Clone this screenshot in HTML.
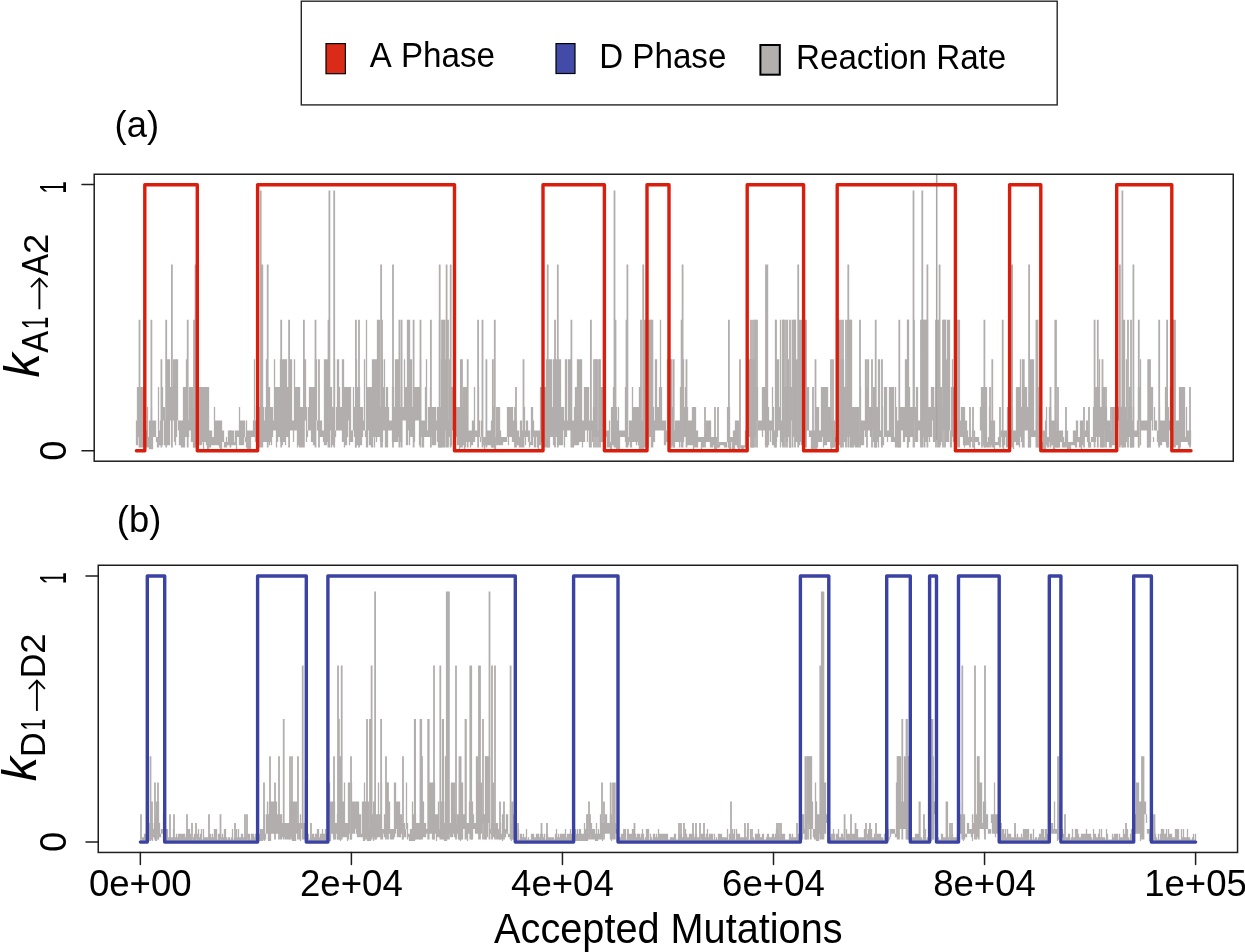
<!DOCTYPE html>
<html><head><meta charset="utf-8"><style>
html,body{margin:0;padding:0;background:#fff;width:1245px;height:952px;overflow:hidden}
svg{display:block;will-change:transform}
text{font-family:"Liberation Sans",sans-serif;fill:#000}
</style></head><body>
<svg width="1245" height="952" viewBox="0 0 1245 952">
<rect width="1245" height="952" fill="#fff"/>
<rect x="301.3" y="1.2" width="755.9" height="103.7" fill="none" stroke="#262626" stroke-width="1.4"/>
<rect x="326.0" y="43.6" width="19.4" height="30.1" fill="#DA2A18" stroke="#000" stroke-width="1.2"/>
<rect x="556.0" y="43.6" width="19.0" height="29.9" fill="#424CA8" stroke="#000" stroke-width="1.2"/>
<rect x="760.4" y="45.0" width="19.4" height="29.7" fill="#B3AFAE" stroke="#000" stroke-width="2"/>
<text transform="translate(369.73,67.40) scale(0.8239,0.8612)" font-size="40.0">A</text>
<text transform="translate(400.88,67.40) scale(0.8296,0.8612)" font-size="40.0">Phase</text>
<text transform="translate(599.29,67.60) scale(0.8277,0.8612)" font-size="40.0">D</text>
<text transform="translate(632.28,67.60) scale(0.8306,0.8612)" font-size="40.0">Phase</text>
<text transform="translate(796.08,69.10) scale(0.8289,0.8539)" font-size="40.0">Reaction</text>
<text transform="translate(936.18,69.10) scale(0.8296,0.8539)" font-size="40.0">Rate</text>
<text transform="translate(114.59,137.20) scale(0.9096,0.9148)" font-size="40.0">(a)</text>
<text transform="translate(116.85,532.30) scale(0.9085,0.9183)" font-size="40.0">(b)</text>
<rect x="94.2" y="174.25" width="1139.05" height="286.95" fill="none" stroke="#1e1e1e" stroke-width="1.5"/>
<rect x="98.25" y="565.25" width="1139.30" height="287.20" fill="none" stroke="#1e1e1e" stroke-width="1.5"/>
<line x1="82.0" y1="184.6" x2="94.2" y2="184.6" stroke="#1e1e1e" stroke-width="1.5" stroke-linecap="round"/>
<line x1="82.0" y1="450.8" x2="94.2" y2="450.8" stroke="#1e1e1e" stroke-width="1.5" stroke-linecap="round"/>
<line x1="86.0" y1="575.95" x2="98.25" y2="575.95" stroke="#1e1e1e" stroke-width="1.5" stroke-linecap="round"/>
<line x1="86.0" y1="842.1" x2="98.25" y2="842.1" stroke="#1e1e1e" stroke-width="1.5" stroke-linecap="round"/>
<text transform="translate(65.50,193.73) rotate(-90) scale(0.5684,0.9230)" font-size="40.0">1</text>
<text transform="translate(65.82,460.81) rotate(-90) scale(0.9048,0.9384)" font-size="40.0">0</text>
<text transform="translate(65.80,584.36) rotate(-90) scale(0.5452,0.9375)" font-size="40.0">1</text>
<text transform="translate(65.82,852.01) rotate(-90) scale(0.9048,0.9384)" font-size="40.0">0</text>
<line x1="140.35" y1="852.45" x2="140.35" y2="864.6" stroke="#1e1e1e" stroke-width="1.5" stroke-linecap="round"/>
<text x="88.95" y="895.6" font-size="36.6" transform="translate(88.95,0) scale(1,1.0) translate(-88.95,0)">0e+00</text>
<line x1="351.4" y1="852.45" x2="351.4" y2="864.6" stroke="#1e1e1e" stroke-width="1.5" stroke-linecap="round"/>
<text x="300.00" y="895.6" font-size="36.6" transform="translate(300.00,0) scale(1,1.0) translate(-300.00,0)">2e+04</text>
<line x1="562.45" y1="852.45" x2="562.45" y2="864.6" stroke="#1e1e1e" stroke-width="1.5" stroke-linecap="round"/>
<text x="511.05" y="895.6" font-size="36.6" transform="translate(511.05,0) scale(1,1.0) translate(-511.05,0)">4e+04</text>
<line x1="773.5" y1="852.45" x2="773.5" y2="864.6" stroke="#1e1e1e" stroke-width="1.5" stroke-linecap="round"/>
<text x="722.10" y="895.6" font-size="36.6" transform="translate(722.10,0) scale(1,1.0) translate(-722.10,0)">6e+04</text>
<line x1="984.55" y1="852.45" x2="984.55" y2="864.6" stroke="#1e1e1e" stroke-width="1.5" stroke-linecap="round"/>
<text x="933.15" y="895.6" font-size="36.6" transform="translate(933.15,0) scale(1,1.0) translate(-933.15,0)">8e+04</text>
<line x1="1195.6" y1="852.45" x2="1195.6" y2="864.6" stroke="#1e1e1e" stroke-width="1.5" stroke-linecap="round"/>
<text x="1144.20" y="895.6" font-size="36.6" transform="translate(1144.20,0) scale(1,1.0) translate(-1144.20,0)">1e+05</text>
<text transform="translate(494.12,943.25) scale(0.9920,1.0392)" font-size="40.0">Accepted Mutations</text>
<text transform="translate(38.75,377.43) rotate(-90) scale(1.2166,1.2276)" font-size="40.0" font-style="italic">k</text><text transform="translate(47.90,352.77) rotate(-90) scale(0.8183,0.9048)" font-size="40.0">A</text><text transform="translate(47.90,328.98) rotate(-90) scale(0.5510,0.9048)" font-size="40.0">1</text><text transform="translate(47.90,275.77) rotate(-90) scale(0.8183,0.9048)" font-size="40.0">A</text><text transform="translate(47.90,253.93) rotate(-90) scale(0.9156,0.8918)" font-size="40.0">2</text><path d="M39.4,309.3 L39.4,278.40000000000003" stroke="#000" stroke-width="1.9" fill="none"/><path d="M31.0,287.2 L39.4,278.6 L47.400000000000006,287.2" stroke="#000" stroke-width="1.9" fill="none" stroke-linejoin="miter"/>
<text transform="translate(36.20,781.23) rotate(-90) scale(1.2166,1.2155)" font-size="40.0" font-style="italic">k</text><text transform="translate(45.40,757.10) rotate(-90) scale(0.8530,0.8903)" font-size="40.0">D</text><text transform="translate(45.40,730.40) rotate(-90) scale(0.5278,0.8903)" font-size="40.0">1</text><text transform="translate(45.40,678.20) rotate(-90) scale(0.8530,0.8903)" font-size="40.0">D</text><text transform="translate(45.40,653.82) rotate(-90) scale(0.9101,0.8775)" font-size="40.0">2</text><path d="M36.9,710.9 L36.9,680.4" stroke="#000" stroke-width="1.9" fill="none"/><path d="M28.8,688.8 L36.9,680.5999999999999 L44.900000000000006,688.8" stroke="#000" stroke-width="1.9" fill="none" stroke-linejoin="miter"/>
<path d="M136.5 420.6V445.3M137.5 387.0V445.3M138.5 387.0V437.0M139.5 387.0V437.0M140.5 387.0V447.6M141.5 387.0V447.6M142.5 387.0V447.6M143.5 387.0V447.6M144.5 387.0V447.6M145.5 420.6V447.6M146.5 430.6V447.6M147.5 407.0V447.6M148.5 437.0V447.6M149.5 420.6V449.3M150.5 420.6V449.3M151.5 407.0V449.3M152.5 420.6V449.3M153.5 420.6V437.0M154.5 420.6V437.0M155.5 420.6V437.0M156.5 437.0V442.0M157.5 437.0V447.6M158.5 387.0V447.6M159.5 430.6V445.3M160.5 420.6V445.3M161.5 420.6V445.3M162.5 387.0V445.3M163.5 407.0V420.6M164.5 407.0V445.3M165.5 420.6V445.3M166.5 359.2V445.3M167.5 359.2V445.3M168.5 359.2V445.3M169.5 359.2V445.3M170.5 387.0V420.6M171.5 387.0V420.6M172.5 387.0V420.6M173.5 359.2V420.6M174.5 359.2V442.0M175.5 359.2V445.3M176.5 359.2V437.0M177.5 359.2V420.6M178.5 420.6V430.6M179.5 420.6V445.3M180.5 420.6V445.3M181.5 420.6V447.6M182.5 420.6V447.6M183.5 387.0V447.6M184.5 387.0V447.6M185.5 387.0V437.0M186.5 359.2V437.0M187.5 407.0V437.0M188.5 420.6V437.0M189.5 387.0V430.6M190.5 387.0V430.6M191.5 387.0V442.0M192.5 387.0V442.0M193.5 407.0V447.6M194.5 359.2V447.6M195.5 407.0V437.0M196.5 387.0V430.6M197.5 387.0V442.0M198.5 387.0V445.3M199.5 387.0V445.3M200.5 387.0V445.3M201.5 387.0V445.3M202.5 387.0V442.0M203.5 387.0V449.3M204.5 387.0V442.0M205.5 387.0V442.0M206.5 387.0V445.3M207.5 387.0V449.3M208.5 387.0V449.3M209.5 430.6V447.6M210.5 430.6V447.6M211.5 430.6V445.3M212.5 437.0V445.3M213.5 437.0V445.3M214.5 407.0V445.3M215.5 420.6V445.3M216.5 420.6V445.3M217.5 420.6V445.3M218.5 420.6V445.3M219.5 420.6V447.6M220.5 420.6V449.3M221.5 420.6V449.3M222.5 430.6V442.0M223.5 430.6V442.0M224.5 442.0V447.6M225.5 442.0V447.6M226.5 437.0V447.6M227.5 442.0V445.3M228.5 430.6V445.3M229.5 430.6V445.3M230.5 430.6V445.3M231.5 430.6V445.3M232.5 430.6V445.3M233.5 430.6V445.3M234.5 442.0V445.3M235.5 430.6V445.3M236.5 430.6V449.3M237.5 430.6V437.0M238.5 430.6V437.0M239.5 407.0V445.3M240.5 420.6V445.3M241.5 420.6V445.3M242.5 420.6V445.3M243.5 420.6V445.3M244.5 420.6V437.0M245.5 437.0V442.0M246.5 420.6V447.6M247.5 430.6V449.3M248.5 430.6V449.3M249.5 430.6V449.3M250.5 430.6V449.3M251.5 430.6V437.0M252.5 430.6V437.0M253.5 420.6V437.0M254.5 359.2V437.0M255.5 420.6V442.0M256.5 407.0V437.0M257.5 407.0V430.6M258.5 420.6V447.6M259.5 407.0V447.6M260.5 407.0V420.6M261.5 407.0V420.6M262.5 407.0V442.0M263.5 407.0V442.0M264.5 420.6V442.0M265.5 407.0V442.0M266.5 359.2V442.0M267.5 387.0V442.0M268.5 387.0V442.0M269.5 387.0V445.3M270.5 407.0V442.0M271.5 407.0V445.3M272.5 407.0V437.0M273.5 420.6V430.6M274.5 359.2V430.6M275.5 387.0V430.6M276.5 387.0V447.6M277.5 387.0V442.0M278.5 387.0V437.0M279.5 387.0V437.0M280.5 359.2V442.0M281.5 359.2V430.6M282.5 359.2V445.3M283.5 359.2V442.0M284.5 359.2V442.0M285.5 359.2V445.3M286.5 359.2V437.0M287.5 387.0V437.0M288.5 387.0V437.0M289.5 387.0V430.6M290.5 359.2V430.6M291.5 359.2V430.6M292.5 420.6V430.6M293.5 420.6V442.0M294.5 359.2V430.6M295.5 387.0V430.6M296.5 387.0V430.6M297.5 387.0V447.6M298.5 387.0V445.3M299.5 387.0V447.6M300.5 407.0V447.6M301.5 407.0V447.6M302.5 407.0V447.6M303.5 420.6V430.6M304.5 359.2V420.6M305.5 359.2V420.6M306.5 407.0V442.0M307.5 430.6V437.0M308.5 407.0V430.6M309.5 387.0V430.6M310.5 387.0V430.6M311.5 387.0V442.0M312.5 387.0V442.0M313.5 387.0V445.3M314.5 387.0V445.3M315.5 359.2V420.6M316.5 359.2V420.6M317.5 420.6V430.6M318.5 420.6V430.6M319.5 420.6V437.0M320.5 420.6V437.0M321.5 420.6V437.0M322.5 430.6V437.0M323.5 430.6V442.0M324.5 359.2V445.3M325.5 359.2V445.3M326.5 359.2V445.3M327.5 359.2V442.0M328.5 359.2V442.0M329.5 387.0V430.6M330.5 387.0V430.6M331.5 387.0V447.6M332.5 407.0V445.3M333.5 407.0V445.3M334.5 359.2V442.0M335.5 430.6V437.0M336.5 407.0V430.6M337.5 359.2V430.6M338.5 359.2V430.6M339.5 387.0V430.6M340.5 407.0V430.6M341.5 407.0V430.6M342.5 359.2V442.0M343.5 359.2V442.0M344.5 387.0V447.6M345.5 387.0V445.3M346.5 387.0V445.3M347.5 387.0V437.0M348.5 387.0V420.6M349.5 387.0V445.3M350.5 387.0V442.0M351.5 430.6V442.0M352.5 430.6V442.0M353.5 387.0V430.6M354.5 407.0V437.0M355.5 420.6V447.6M356.5 359.2V445.3M357.5 387.0V445.3M358.5 387.0V445.3M359.5 387.0V445.3M360.5 407.0V445.3M361.5 407.0V445.3M362.5 407.0V437.0M363.5 420.6V430.6M364.5 359.2V430.6M365.5 430.6V437.0M366.5 319.7V447.6M367.5 387.0V447.6M368.5 387.0V430.6M369.5 387.0V445.3M370.5 387.0V445.3M371.5 387.0V447.6M372.5 359.2V447.6M373.5 359.2V437.0M374.5 359.2V447.6M375.5 359.2V437.0M376.5 359.2V442.0M377.5 319.7V437.0M378.5 319.7V437.0M379.5 319.7V437.0M380.5 407.0V442.0M381.5 407.0V442.0M382.5 359.2V442.0M383.5 387.0V430.6M384.5 359.2V430.6M385.5 407.0V447.6M386.5 387.0V447.6M387.5 387.0V447.6M388.5 407.0V430.6M389.5 420.6V430.6M390.5 420.6V430.6M391.5 420.6V430.6M392.5 387.0V442.0M393.5 387.0V442.0M394.5 407.0V442.0M395.5 359.2V442.0M396.5 359.2V442.0M397.5 359.2V442.0M398.5 359.2V437.0M399.5 359.2V442.0M400.5 407.0V442.0M401.5 387.0V442.0M402.5 407.0V420.6M403.5 407.0V420.6M404.5 359.2V420.6M405.5 387.0V420.6M406.5 387.0V445.3M407.5 319.7V445.3M408.5 319.7V430.6M409.5 319.7V445.3M410.5 359.2V437.0M411.5 359.2V437.0M412.5 407.0V437.0M413.5 387.0V437.0M414.5 387.0V442.0M415.5 387.0V420.6M416.5 387.0V420.6M417.5 387.0V420.6M418.5 387.0V420.6M419.5 387.0V445.3M420.5 359.2V437.0M421.5 420.6V437.0M422.5 420.6V447.6M423.5 420.6V447.6M424.5 420.6V437.0M425.5 387.0V437.0M426.5 359.2V437.0M427.5 430.6V437.0M428.5 407.0V437.0M429.5 407.0V437.0M430.5 387.0V437.0M431.5 407.0V437.0M432.5 407.0V445.3M433.5 407.0V445.3M434.5 407.0V445.3M435.5 407.0V445.3M436.5 420.6V430.6M437.5 407.0V442.0M438.5 407.0V447.6M439.5 319.7V447.6M440.5 407.0V447.6M441.5 359.2V447.6M442.5 359.2V442.0M443.5 319.7V437.0M444.5 359.2V430.6M445.5 359.2V430.6M446.5 420.6V437.0M447.5 420.6V437.0M448.5 420.6V437.0M449.5 359.2V437.0M450.5 387.0V445.3M451.5 387.0V445.3M452.5 387.0V430.6M453.5 387.0V430.6M454.5 264.5V430.6M455.5 407.0V430.6M456.5 407.0V437.0M457.5 407.0V445.3M458.5 407.0V445.3M459.5 407.0V449.3M460.5 407.0V445.3M461.5 407.0V442.0M462.5 407.0V445.3M463.5 387.0V445.3M464.5 387.0V449.3M465.5 387.0V447.6M466.5 387.0V442.0M467.5 430.6V442.0M468.5 430.6V442.0M469.5 430.6V442.0M470.5 430.6V447.6M471.5 430.6V445.3M472.5 420.6V445.3M473.5 420.6V442.0M474.5 387.0V442.0M475.5 430.6V437.0M476.5 430.6V437.0M477.5 430.6V437.0M478.5 387.0V437.0M479.5 420.6V437.0M480.5 437.0V442.0M481.5 420.6V437.0M482.5 437.0V442.0M483.5 437.0V445.3M484.5 437.0V449.3M485.5 437.0V445.3M486.5 437.0V445.3M487.5 430.6V445.3M488.5 430.6V445.3M489.5 430.6V445.3M490.5 430.6V445.3M491.5 420.6V447.6M492.5 420.6V447.6M493.5 407.0V447.6M494.5 437.0V449.3M495.5 437.0V449.3M496.5 407.0V445.3M497.5 407.0V445.3M498.5 407.0V445.3M499.5 407.0V445.3M500.5 430.6V445.3M501.5 437.0V445.3M502.5 437.0V445.3M503.5 437.0V442.0M504.5 437.0V442.0M505.5 437.0V442.0M506.5 437.0V442.0M507.5 407.0V437.0M508.5 407.0V445.3M509.5 407.0V437.0M510.5 407.0V437.0M511.5 407.0V437.0M512.5 407.0V442.0M513.5 420.6V442.0M514.5 420.6V442.0M515.5 420.6V445.3M516.5 420.6V445.3M517.5 430.6V445.3M518.5 430.6V445.3M519.5 437.0V447.6M520.5 420.6V447.6M521.5 420.6V447.6M522.5 430.6V447.6M523.5 430.6V437.0M524.5 407.0V437.0M525.5 430.6V445.3M526.5 420.6V437.0M527.5 420.6V437.0M528.5 430.6V442.0M529.5 430.6V447.6M530.5 442.0V445.3M531.5 407.0V445.3M532.5 407.0V445.3M533.5 420.6V437.0M534.5 430.6V447.6M535.5 430.6V447.6M536.5 430.6V437.0M537.5 430.6V447.6M538.5 430.6V449.3M539.5 430.6V445.3M540.5 387.0V445.3M541.5 387.0V442.0M542.5 420.6V437.0M543.5 420.6V437.0M544.5 387.0V447.6M545.5 387.0V447.6M546.5 359.2V447.6M547.5 359.2V447.6M548.5 359.2V447.6M549.5 359.2V447.6M550.5 359.2V437.0M551.5 359.2V437.0M552.5 407.0V437.0M553.5 359.2V445.3M554.5 359.2V445.3M555.5 359.2V437.0M556.5 359.2V437.0M557.5 359.2V445.3M558.5 359.2V445.3M559.5 359.2V445.3M560.5 359.2V445.3M561.5 407.0V445.3M562.5 407.0V445.3M563.5 407.0V430.6M564.5 420.6V447.6M565.5 359.2V437.0M566.5 359.2V437.0M567.5 420.6V430.6M568.5 359.2V430.6M569.5 359.2V430.6M570.5 359.2V430.6M571.5 420.6V442.0M572.5 420.6V447.6M573.5 420.6V447.6M574.5 407.0V445.3M575.5 387.0V445.3M576.5 387.0V445.3M577.5 359.2V445.3M578.5 359.2V445.3M579.5 359.2V442.0M580.5 359.2V442.0M581.5 359.2V442.0M582.5 420.6V447.6M583.5 420.6V442.0M584.5 387.0V442.0M585.5 387.0V430.6M586.5 387.0V430.6M587.5 387.0V442.0M588.5 387.0V430.6M589.5 420.6V447.6M590.5 420.6V430.6M591.5 420.6V430.6M592.5 420.6V442.0M593.5 407.0V437.0M594.5 407.0V437.0M595.5 359.2V437.0M596.5 359.2V437.0M597.5 430.6V437.0M598.5 430.6V437.0M599.5 359.2V442.0M600.5 387.0V442.0M601.5 387.0V442.0M602.5 387.0V442.0M603.5 319.7V430.6M604.5 420.6V447.6M605.5 420.6V437.0M606.5 430.6V437.0M607.5 430.6V447.6M608.5 430.6V447.6M609.5 420.6V447.6M610.5 442.0V449.3M611.5 407.0V449.3M612.5 407.0V445.3M613.5 387.0V445.3M614.5 387.0V445.3M615.5 407.0V445.3M616.5 407.0V449.3M617.5 420.6V449.3M618.5 407.0V449.3M619.5 430.6V449.3M620.5 430.6V437.0M621.5 430.6V437.0M622.5 430.6V437.0M623.5 430.6V437.0M624.5 430.6V437.0M625.5 387.0V442.0M626.5 437.0V442.0M627.5 437.0V445.3M628.5 437.0V445.3M629.5 420.6V442.0M630.5 420.6V447.6M631.5 420.6V447.6M632.5 387.0V442.0M633.5 407.0V442.0M634.5 407.0V442.0M635.5 407.0V442.0M636.5 407.0V445.3M637.5 407.0V442.0M638.5 407.0V445.3M639.5 407.0V449.3M640.5 430.6V449.3M641.5 420.6V449.3M642.5 420.6V449.3M643.5 407.0V449.3M644.5 407.0V445.3M645.5 430.6V445.3M646.5 420.6V445.3M647.5 407.0V445.3M648.5 430.6V445.3M649.5 319.7V437.0M650.5 319.7V437.0M651.5 319.7V437.0M652.5 407.0V445.3M653.5 407.0V442.0M654.5 420.6V442.0M655.5 359.2V430.6M656.5 359.2V430.6M657.5 407.0V430.6M658.5 407.0V430.6M659.5 387.0V430.6M660.5 319.7V430.6M661.5 387.0V430.6M662.5 420.6V430.6M663.5 420.6V430.6M664.5 420.6V445.3M665.5 420.6V445.3M666.5 430.6V442.0M667.5 359.2V442.0M668.5 359.2V442.0M669.5 359.2V442.0M670.5 359.2V445.3M671.5 407.0V447.6M672.5 407.0V445.3M673.5 430.6V447.6M674.5 430.6V447.6M675.5 420.6V442.0M676.5 420.6V442.0M677.5 420.6V442.0M678.5 420.6V442.0M679.5 420.6V447.6M680.5 387.0V442.0M681.5 387.0V442.0M682.5 359.2V442.0M683.5 359.2V442.0M684.5 407.0V437.0M685.5 387.0V437.0M686.5 420.6V437.0M687.5 407.0V445.3M688.5 420.6V445.3M689.5 420.6V445.3M690.5 420.6V445.3M691.5 420.6V445.3M692.5 407.0V445.3M693.5 407.0V449.3M694.5 407.0V447.6M695.5 407.0V447.6M696.5 430.6V447.6M697.5 430.6V447.6M698.5 437.0V442.0M699.5 437.0V442.0M700.5 437.0V442.0M701.5 437.0V449.3M702.5 437.0V447.6M703.5 437.0V447.6M704.5 437.0V442.0M705.5 430.6V442.0M706.5 420.6V442.0M707.5 420.6V442.0M708.5 420.6V442.0M709.5 420.6V442.0M710.5 420.6V447.6M711.5 437.0V447.6M712.5 437.0V447.6M713.5 437.0V445.3M714.5 437.0V449.3M715.5 437.0V449.3M716.5 437.0V449.3M717.5 445.3V447.6M718.5 445.3V447.6M719.5 442.0V447.6M720.5 442.0V445.3M721.5 442.0V445.3M722.5 442.0V445.3M723.5 442.0V445.3M724.5 442.0V447.6M725.5 442.0V447.6M726.5 442.0V447.6M727.5 407.0V442.0M728.5 407.0V447.6M729.5 407.0V449.3M730.5 437.0V449.3M731.5 437.0V442.0M732.5 437.0V449.3M733.5 430.6V449.3M734.5 430.6V449.3M735.5 420.6V445.3M736.5 420.6V445.3M737.5 420.6V447.6M738.5 420.6V449.3M739.5 447.6V449.3M740.5 445.3V447.6M741.5 445.3V449.3M742.5 445.3V449.3M743.5 445.3V449.3M744.5 445.3V447.6M745.5 430.6V447.6M746.5 442.0V447.6M747.5 359.2V437.0M748.5 359.2V437.0M749.5 359.2V437.0M750.5 359.2V437.0M751.5 359.2V447.6M752.5 359.2V447.6M753.5 359.2V447.6M754.5 359.2V437.0M755.5 319.7V437.0M756.5 387.0V420.6M757.5 387.0V420.6M758.5 420.6V430.6M759.5 420.6V430.6M760.5 420.6V430.6M761.5 420.6V430.6M762.5 387.0V437.0M763.5 387.0V430.6M764.5 387.0V430.6M765.5 387.0V445.3M766.5 407.0V445.3M767.5 407.0V445.3M768.5 407.0V445.3M769.5 420.6V430.6M770.5 420.6V442.0M771.5 420.6V430.6M772.5 387.0V445.3M773.5 407.0V445.3M774.5 430.6V447.6M775.5 319.7V447.6M776.5 359.2V442.0M777.5 359.2V437.0M778.5 359.2V430.6M779.5 407.0V430.6M780.5 319.7V447.6M781.5 420.6V442.0M782.5 319.7V445.3M783.5 319.7V445.3M784.5 387.0V437.0M785.5 387.0V437.0M786.5 387.0V442.0M787.5 319.7V442.0M788.5 359.2V437.0M789.5 387.0V447.6M790.5 387.0V447.6M791.5 387.0V420.6M792.5 387.0V437.0M793.5 319.7V437.0M794.5 319.7V437.0M795.5 319.7V442.0M796.5 359.2V442.0M797.5 359.2V442.0M798.5 359.2V437.0M799.5 319.7V445.3M800.5 319.7V442.0M801.5 319.7V445.3M802.5 319.7V445.3M803.5 319.7V445.3M804.5 420.6V445.3M805.5 387.0V430.6M806.5 387.0V430.6M807.5 387.0V430.6M808.5 387.0V430.6M809.5 430.6V437.0M810.5 430.6V437.0M811.5 430.6V449.3M812.5 430.6V449.3M813.5 430.6V449.3M814.5 430.6V449.3M815.5 430.6V449.3M816.5 407.0V449.3M817.5 407.0V447.6M818.5 407.0V442.0M819.5 430.6V442.0M820.5 430.6V442.0M821.5 387.0V442.0M822.5 387.0V437.0M823.5 387.0V447.6M824.5 387.0V445.3M825.5 387.0V445.3M826.5 387.0V445.3M827.5 387.0V442.0M828.5 407.0V442.0M829.5 407.0V442.0M830.5 407.0V437.0M831.5 420.6V449.3M832.5 420.6V447.6M833.5 430.6V447.6M834.5 420.6V447.6M835.5 437.0V442.0M836.5 430.6V445.3M837.5 407.0V442.0M838.5 319.7V445.3M839.5 319.7V445.3M840.5 359.2V445.3M841.5 359.2V447.6M842.5 359.2V442.0M843.5 359.2V442.0M844.5 387.0V442.0M845.5 387.0V442.0M846.5 387.0V442.0M847.5 319.7V437.0M848.5 319.7V437.0M849.5 319.7V437.0M850.5 319.7V437.0M851.5 319.7V447.6M852.5 407.0V447.6M853.5 407.0V447.6M854.5 407.0V445.3M855.5 407.0V447.6M856.5 407.0V447.6M857.5 407.0V447.6M858.5 407.0V447.6M859.5 437.0V442.0M860.5 387.0V445.3M861.5 420.6V445.3M862.5 420.6V445.3M863.5 420.6V445.3M864.5 420.6V430.6M865.5 359.2V437.0M866.5 387.0V430.6M867.5 387.0V430.6M868.5 359.2V430.6M869.5 407.0V430.6M870.5 407.0V437.0M871.5 407.0V437.0M872.5 407.0V430.6M873.5 387.0V442.0M874.5 387.0V447.6M875.5 387.0V447.6M876.5 407.0V447.6M877.5 407.0V442.0M878.5 359.2V447.6M879.5 359.2V437.0M880.5 430.6V437.0M881.5 430.6V445.3M882.5 407.0V445.3M883.5 437.0V445.3M884.5 387.0V437.0M885.5 387.0V437.0M886.5 387.0V437.0M887.5 430.6V442.0M888.5 430.6V437.0M889.5 387.0V437.0M890.5 387.0V437.0M891.5 387.0V442.0M892.5 387.0V442.0M893.5 387.0V442.0M894.5 437.0V442.0M895.5 387.0V447.6M896.5 407.0V447.6M897.5 420.6V447.6M898.5 420.6V447.6M899.5 407.0V447.6M900.5 407.0V447.6M901.5 407.0V430.6M902.5 407.0V430.6M903.5 407.0V442.0M904.5 407.0V442.0M905.5 359.2V437.0M906.5 359.2V437.0M907.5 319.7V447.6M908.5 319.7V442.0M909.5 387.0V442.0M910.5 407.0V437.0M911.5 407.0V437.0M912.5 407.0V437.0M913.5 407.0V420.6M914.5 407.0V420.6M915.5 407.0V442.0M916.5 387.0V442.0M917.5 387.0V442.0M918.5 420.6V430.6M919.5 420.6V430.6M920.5 420.6V442.0M921.5 319.7V445.3M922.5 319.7V445.3M923.5 319.7V437.0M924.5 319.7V442.0M925.5 319.7V442.0M926.5 319.7V442.0M927.5 319.7V437.0M928.5 407.0V437.0M929.5 407.0V442.0M930.5 407.0V437.0M931.5 387.0V437.0M932.5 387.0V420.6M933.5 387.0V442.0M934.5 407.0V442.0M935.5 387.0V442.0M936.5 387.0V430.6M937.5 407.0V442.0M938.5 359.2V430.6M939.5 387.0V430.6M940.5 387.0V445.3M941.5 387.0V442.0M942.5 407.0V430.6M943.5 319.7V430.6M944.5 319.7V430.6M945.5 319.7V442.0M946.5 359.2V442.0M947.5 319.7V442.0M948.5 319.7V442.0M949.5 319.7V430.6M950.5 430.6V447.6M951.5 387.0V447.6M952.5 359.2V437.0M953.5 387.0V442.0M954.5 407.0V442.0M955.5 420.6V449.3M956.5 442.0V445.3M957.5 420.6V445.3M958.5 420.6V445.3M959.5 420.6V437.0M960.5 420.6V437.0M961.5 407.0V437.0M962.5 407.0V437.0M963.5 407.0V445.3M964.5 407.0V447.6M965.5 420.6V445.3M966.5 420.6V445.3M967.5 430.6V445.3M968.5 437.0V445.3M969.5 437.0V442.0M970.5 437.0V442.0M971.5 437.0V442.0M972.5 430.6V437.0M973.5 445.3V447.6M974.5 430.6V449.3M975.5 437.0V442.0M976.5 437.0V442.0M977.5 437.0V442.0M978.5 437.0V445.3M979.5 442.0V445.3M980.5 407.0V430.6M981.5 387.0V430.6M982.5 387.0V430.6M983.5 387.0V445.3M984.5 387.0V447.6M985.5 387.0V447.6M986.5 387.0V447.6M987.5 442.0V447.6M988.5 437.0V447.6M989.5 407.0V445.3M990.5 420.6V445.3M991.5 420.6V445.3M992.5 420.6V445.3M993.5 420.6V447.6M994.5 420.6V449.3M995.5 442.0V445.3M996.5 442.0V445.3M997.5 442.0V445.3M998.5 437.0V445.3M999.5 437.0V445.3M1000.5 437.0V442.0M1001.5 430.6V437.0M1002.5 430.6V437.0M1003.5 430.6V449.3M1004.5 430.6V445.3M1005.5 430.6V437.0M1006.5 430.6V447.6M1007.5 407.0V447.6M1008.5 407.0V447.6M1009.5 407.0V447.6M1010.5 420.6V447.6M1011.5 430.6V445.3M1012.5 407.0V445.3M1013.5 430.6V449.3M1014.5 430.6V442.0M1015.5 430.6V442.0M1016.5 387.0V445.3M1017.5 387.0V445.3M1018.5 387.0V445.3M1019.5 387.0V447.6M1020.5 359.2V437.0M1021.5 407.0V442.0M1022.5 359.2V447.6M1023.5 420.6V430.6M1024.5 387.0V430.6M1025.5 387.0V430.6M1026.5 387.0V430.6M1027.5 407.0V430.6M1028.5 407.0V447.6M1029.5 359.2V447.6M1030.5 359.2V447.6M1031.5 359.2V437.0M1032.5 359.2V437.0M1033.5 359.2V437.0M1034.5 430.6V437.0M1035.5 430.6V437.0M1036.5 420.6V437.0M1037.5 387.0V447.6M1038.5 387.0V447.6M1039.5 407.0V430.6M1040.5 407.0V430.6M1041.5 430.6V437.0M1042.5 442.0V449.3M1043.5 430.6V449.3M1044.5 430.6V449.3M1045.5 420.6V449.3M1046.5 407.0V445.3M1047.5 437.0V447.6M1048.5 437.0V447.6M1049.5 407.0V442.0M1050.5 407.0V445.3M1051.5 420.6V445.3M1052.5 420.6V445.3M1053.5 420.6V449.3M1054.5 420.6V449.3M1055.5 420.6V445.3M1056.5 430.6V447.6M1057.5 420.6V447.6M1058.5 430.6V447.6M1059.5 430.6V447.6M1060.5 430.6V442.0M1061.5 430.6V442.0M1062.5 430.6V447.6M1063.5 437.0V447.6M1064.5 442.0V447.6M1065.5 430.6V445.3M1066.5 430.6V442.0M1067.5 430.6V449.3M1068.5 442.0V449.3M1069.5 442.0V449.3M1070.5 442.0V449.3M1071.5 442.0V445.3M1072.5 442.0V445.3M1073.5 430.6V445.3M1074.5 430.6V445.3M1075.5 430.6V447.6M1076.5 420.6V447.6M1077.5 420.6V442.0M1078.5 437.0V442.0M1079.5 437.0V447.6M1080.5 420.6V447.6M1081.5 420.6V449.3M1082.5 420.6V445.3M1083.5 437.0V442.0M1084.5 430.6V437.0M1085.5 430.6V437.0M1086.5 420.6V437.0M1087.5 420.6V442.0M1088.5 430.6V445.3M1089.5 442.0V447.6M1090.5 442.0V447.6M1091.5 437.0V442.0M1092.5 437.0V442.0M1093.5 407.0V442.0M1094.5 407.0V442.0M1095.5 387.0V442.0M1096.5 387.0V437.0M1097.5 387.0V437.0M1098.5 387.0V437.0M1099.5 359.2V437.0M1100.5 407.0V447.6M1101.5 407.0V447.6M1102.5 387.0V447.6M1103.5 387.0V442.0M1104.5 387.0V430.6M1105.5 407.0V442.0M1106.5 407.0V442.0M1107.5 420.6V442.0M1108.5 420.6V442.0M1109.5 420.6V447.6M1110.5 430.6V447.6M1111.5 430.6V445.3M1112.5 407.0V445.3M1113.5 407.0V445.3M1114.5 407.0V445.3M1115.5 407.0V449.3M1116.5 407.0V449.3M1117.5 407.0V430.6M1118.5 407.0V420.6M1119.5 359.2V420.6M1120.5 407.0V445.3M1121.5 407.0V445.3M1122.5 319.7V447.6M1123.5 319.7V447.6M1124.5 319.7V447.6M1125.5 407.0V447.6M1126.5 359.2V442.0M1127.5 420.6V437.0M1128.5 407.0V437.0M1129.5 387.0V437.0M1130.5 387.0V447.6M1131.5 407.0V447.6M1132.5 420.6V447.6M1133.5 407.0V437.0M1134.5 430.6V437.0M1135.5 430.6V437.0M1136.5 430.6V437.0M1137.5 420.6V437.0M1138.5 387.0V447.6M1139.5 387.0V420.6M1140.5 359.2V445.3M1141.5 420.6V430.6M1142.5 420.6V430.6M1143.5 420.6V430.6M1144.5 420.6V430.6M1145.5 420.6V430.6M1146.5 420.6V430.6M1147.5 420.6V447.6M1148.5 437.0V447.6M1149.5 407.0V442.0M1150.5 387.0V442.0M1151.5 387.0V420.6M1152.5 387.0V430.6M1153.5 437.0V442.0M1154.5 407.0V430.6M1155.5 420.6V430.6M1156.5 420.6V430.6M1157.5 430.6V442.0M1158.5 430.6V445.3M1159.5 407.0V445.3M1160.5 420.6V445.3M1161.5 420.6V445.3M1162.5 420.6V442.0M1163.5 420.6V442.0M1164.5 420.6V442.0M1165.5 387.0V442.0M1166.5 387.0V445.3M1167.5 407.0V447.6M1168.5 407.0V447.6M1169.5 420.6V430.6M1170.5 387.0V430.6M1171.5 387.0V430.6M1172.5 387.0V445.3M1173.5 420.6V442.0M1174.5 420.6V442.0M1175.5 420.6V445.3M1176.5 420.6V445.3M1177.5 420.6V445.3M1178.5 420.6V449.3M1179.5 387.0V449.3M1180.5 387.0V442.0M1181.5 387.0V442.0M1182.5 387.0V442.0M1183.5 387.0V442.0M1184.5 387.0V442.0M1185.5 437.0V442.0M1186.5 407.0V442.0M1187.5 430.6V442.0M1188.5 430.6V445.3M1189.5 430.6V445.3M1190.5 430.6V445.3" stroke="#B2AEAD" stroke-width="1.3" fill="none"/><path d="M139.5 319.7V447.6M151.4 319.7V447.6M161.4 359.2V447.6M166.2 319.7V447.6M171.9 264.5V447.6M187.7 319.7V447.6M194.0 319.7V447.6M195.5 264.5V447.6M230.4 430.6V447.6M260.7 190.5V447.6M262.3 264.5V447.6M267.7 264.5V447.6M281.2 319.7V447.6M289.1 319.7V447.6M303.9 319.7V447.6M315.5 319.7V447.6M319.0 359.2V447.6M328.5 319.7V447.6M329.4 190.5V447.6M334.2 190.5V447.6M355.9 319.7V447.6M359.0 319.7V447.6M381.1 264.5V447.6M382.0 319.7V447.6M393.0 264.5V447.6M399.4 319.7V447.6M401.6 319.7V447.6M413.6 319.7V447.6M420.5 319.7V447.6M430.9 319.7V447.6M439.7 264.5V447.6M442.0 319.7V447.6M443.0 319.7V447.6M444.5 319.7V447.6M446.6 264.5V447.6M448.0 319.7V447.6M450.7 264.5V447.6M460.8 359.2V447.6M462.0 359.2V447.6M467.7 359.2V447.6M478.1 319.7V447.6M482.5 319.7V447.6M486.4 359.2V447.6M492.8 359.2V447.6M494.8 319.7V447.6M515.0 407.0V447.6M516.0 387.0V447.6M523.5 359.2V447.6M547.7 264.5V447.6M555.0 319.7V447.6M557.8 264.5V447.6M571.4 319.7V447.6M590.9 319.7V447.6M594.0 359.2V447.6M596.0 359.2V447.6M598.0 359.2V447.6M600.0 359.2V447.6M614.5 190.5V447.6M615.5 319.7V447.6M626.5 319.7V447.6M627.4 264.5V447.6M639.7 387.0V447.6M641.0 319.7V447.6M643.2 264.5V447.6M645.0 319.7V447.6M648.0 319.7V447.6M651.7 319.7V447.6M652.4 319.7V447.6M671.5 359.2V447.6M673.7 359.2V447.6M681.6 319.7V447.6M682.6 264.5V447.6M686.5 359.2V447.6M705.0 407.0V447.6M715.0 407.0V447.6M718.0 407.0V447.6M728.9 319.7V447.6M740.0 359.2V447.6M751.0 319.7V447.6M753.0 319.7V447.6M755.0 319.7V447.6M757.0 319.7V447.6M766.0 264.5V447.6M767.3 264.5V447.6M776.0 319.7V447.6M783.0 319.7V447.6M785.0 319.7V447.6M787.0 319.7V447.6M790.0 319.7V447.6M792.5 319.7V447.6M795.0 319.7V447.6M798.2 264.5V447.6M804.5 319.7V447.6M806.0 319.7V447.6M813.0 387.0V447.6M815.5 359.2V447.6M831.0 359.2V447.6M833.0 359.2V447.6M841.0 319.7V447.6M843.0 319.7V447.6M846.0 319.7V447.6M848.3 264.5V447.6M850.5 319.7V447.6M860.0 319.7V447.6M867.0 359.2V447.6M872.0 359.2V447.6M875.7 319.7V447.6M882.0 359.2V447.6M899.3 319.7V447.6M908.0 319.7V447.6M913.5 190.5V447.6M914.0 319.7V447.6M921.0 319.7V447.6M922.3 190.5V447.6M924.5 319.7V447.6M927.4 264.5V447.6M936.0 319.7V447.6M938.0 319.7V447.6M939.6 264.5V447.6M943.0 319.7V447.6M945.0 319.7V447.6M958.0 319.7V447.6M959.2 319.7V447.6M970.0 407.0V447.6M973.0 407.0V447.6M982.0 387.0V447.6M984.4 319.7V447.6M990.0 387.0V447.6M992.3 359.2V447.6M1000.0 407.0V447.6M1002.7 319.7V447.6M1012.1 264.5V447.6M1023.8 359.2V447.6M1029.1 264.5V447.6M1036.4 319.7V447.6M1037.5 319.7V447.6M1050.5 387.0V447.6M1055.3 319.7V447.6M1056.0 319.7V447.6M1058.0 387.0V447.6M1066.0 407.0V447.6M1084.0 407.0V447.6M1089.0 407.0V447.6M1094.6 319.7V447.6M1097.8 319.7V447.6M1102.5 359.2V447.6M1104.0 387.0V447.6M1106.0 387.0V447.6M1111.0 407.0V447.6M1119.9 264.5V447.6M1122.4 190.5V447.6M1128.0 319.7V447.6M1131.0 319.7V447.6M1133.4 264.5V447.6M1138.8 319.7V447.6M1148.2 359.2V447.6M1150.0 359.2V447.6M1159.2 319.7V447.6M1167.1 319.7V447.6M1173.4 319.7V447.6M1175.0 319.7V447.6M1180.0 387.0V447.6M1190.0 387.0V447.6" stroke="#B2AEAD" stroke-width="1.8" fill="none"/>
<path d="M140.5 839.6V841.0M141.5 839.6V841.0M142.5 837.3V841.0M143.5 837.3V841.0M144.5 833.7V841.0M145.5 833.7V841.0M146.5 828.9V841.0M147.5 828.9V841.0M148.5 823.0V841.0M149.5 823.0V841.0M150.5 823.0V841.0M151.5 823.0V839.6M152.5 823.0V841.0M153.5 828.9V837.3M154.5 823.0V837.3M155.5 814.3V841.0M156.5 801.5V841.0M157.5 801.5V833.7M158.5 801.5V839.6M159.5 823.0V837.3M160.5 833.7V837.3M161.5 828.9V833.7M162.5 828.9V833.7M163.5 814.3V841.0M164.5 814.3V837.3M165.5 828.9V837.3M166.5 828.9V841.0M167.5 828.9V841.0M168.5 837.3V841.0M169.5 837.3V841.0M170.5 837.3V841.0M171.5 837.3V841.0M172.5 837.3V841.0M173.5 828.9V841.0M174.5 837.3V841.0M175.5 837.3V841.0M176.5 833.7V841.0M177.5 837.3V841.0M178.5 833.7V841.0M179.5 833.7V841.0M180.5 833.7V841.0M181.5 833.7V841.0M182.5 833.7V841.0M183.5 833.7V841.0M184.5 833.7V841.0M185.5 837.3V841.0M186.5 833.7V841.0M187.5 828.9V841.0M188.5 828.9V841.0M189.5 828.9V841.0M190.5 833.7V841.0M191.5 837.3V841.0M192.5 839.6V841.0M193.5 837.3V841.0M194.5 833.7V841.0M195.5 833.7V841.0M196.5 839.6V841.0M197.5 833.7V841.0M198.5 828.9V841.0M199.5 837.3V841.0M200.5 833.7V841.0M201.5 828.9V841.0M202.5 839.6V841.0M203.5 828.9V841.0M204.5 837.3V841.0M205.5 837.3V841.0M206.5 837.3V841.0M207.5 837.3V841.0M208.5 837.3V841.0M209.5 833.7V841.0M210.5 833.7V841.0M211.5 837.3V841.0M212.5 833.7V841.0M213.5 837.3V841.0M214.5 828.9V841.0M215.5 828.9V841.0M216.5 828.9V841.0M217.5 839.6V841.0M218.5 833.7V841.0M219.5 833.7V841.0M220.5 839.6V841.0M221.5 837.3V841.0M222.5 833.7V841.0M223.5 837.3V841.0M224.5 828.9V841.0M225.5 828.9V841.0M226.5 837.3V841.0M227.5 839.6V841.0M228.5 837.3V841.0M229.5 837.3V841.0M230.5 839.6V841.0M231.5 837.3V841.0M232.5 828.9V841.0M233.5 839.6V841.0M234.5 837.3V841.0M235.5 837.3V841.0M236.5 828.9V841.0M237.5 837.3V841.0M238.5 828.9V841.0M239.5 837.3V841.0M240.5 837.3V841.0M241.5 833.7V841.0M242.5 833.7V841.0M243.5 837.3V841.0M244.5 837.3V841.0M245.5 837.3V841.0M246.5 833.7V841.0M247.5 839.6V841.0M248.5 833.7V841.0M249.5 833.7V841.0M250.5 839.6V841.0M251.5 833.7V841.0M252.5 833.7V841.0M253.5 833.7V841.0M254.5 837.3V841.0M255.5 833.7V841.0M256.5 839.6V841.0M257.5 833.7V841.0M258.5 833.7V837.3M259.5 833.7V841.0M260.5 828.9V841.0M261.5 828.9V841.0M262.5 828.9V841.0M263.5 828.9V839.6M264.5 814.3V841.0M265.5 833.7V839.6M266.5 814.3V833.7M267.5 801.5V833.7M268.5 814.3V841.0M269.5 801.5V841.0M270.5 801.5V841.0M271.5 801.5V833.7M272.5 801.5V833.7M273.5 801.5V833.7M274.5 801.5V833.7M275.5 801.5V833.7M276.5 801.5V833.7M277.5 814.3V833.7M278.5 814.3V833.7M279.5 814.3V833.7M280.5 814.3V839.6M281.5 814.3V839.6M282.5 823.0V837.3M283.5 823.0V837.3M284.5 823.0V837.3M285.5 823.0V839.6M286.5 823.0V839.6M287.5 823.0V839.6M288.5 823.0V839.6M289.5 823.0V839.6M290.5 801.5V837.3M291.5 801.5V837.3M292.5 801.5V841.0M293.5 801.5V841.0M294.5 801.5V841.0M295.5 801.5V841.0M296.5 801.5V833.7M297.5 823.0V833.7M298.5 823.0V833.7M299.5 823.0V839.6M300.5 814.3V841.0M301.5 823.0V828.9M302.5 823.0V828.9M303.5 823.0V839.6M304.5 823.0V839.6M305.5 782.4V839.6M306.5 837.3V841.0M307.5 839.6V841.0M308.5 833.7V841.0M309.5 839.6V841.0M310.5 837.3V841.0M311.5 837.3V841.0M312.5 833.7V841.0M313.5 833.7V841.0M314.5 837.3V841.0M315.5 833.7V841.0M316.5 833.7V841.0M317.5 828.9V841.0M318.5 828.9V841.0M319.5 837.3V841.0M320.5 833.7V841.0M321.5 833.7V841.0M322.5 828.9V841.0M323.5 833.7V841.0M324.5 833.7V841.0M325.5 828.9V841.0M326.5 833.7V841.0M327.5 839.6V841.0M328.5 782.4V841.0M329.5 782.4V841.0M330.5 801.5V841.0M331.5 801.5V833.7M332.5 801.5V833.7M333.5 801.5V837.3M334.5 801.5V839.6M335.5 823.0V839.6M336.5 823.0V833.7M337.5 814.3V839.6M338.5 814.3V839.6M339.5 814.3V839.6M340.5 814.3V841.0M341.5 801.5V837.3M342.5 801.5V837.3M343.5 801.5V837.3M344.5 782.4V837.3M345.5 823.0V837.3M346.5 823.0V837.3M347.5 823.0V841.0M348.5 782.4V839.6M349.5 782.4V833.7M350.5 833.7V839.6M351.5 782.4V839.6M352.5 801.5V833.7M353.5 801.5V833.7M354.5 801.5V833.7M355.5 801.5V828.9M356.5 801.5V833.7M357.5 801.5V837.3M358.5 801.5V837.3M359.5 814.3V837.3M360.5 814.3V837.3M361.5 833.7V837.3M362.5 801.5V837.3M363.5 801.5V841.0M364.5 782.4V841.0M365.5 801.5V839.6M366.5 801.5V837.3M367.5 801.5V841.0M368.5 801.5V841.0M369.5 828.9V841.0M370.5 801.5V841.0M371.5 814.3V837.3M372.5 814.3V837.3M373.5 801.5V841.0M374.5 801.5V837.3M375.5 814.3V839.6M376.5 814.3V839.6M377.5 814.3V837.3M378.5 782.4V837.3M379.5 814.3V837.3M380.5 814.3V837.3M381.5 782.4V837.3M382.5 828.9V839.6M383.5 828.9V833.7M384.5 814.3V837.3M385.5 814.3V837.3M386.5 782.4V837.3M387.5 782.4V833.7M388.5 801.5V833.7M389.5 801.5V833.7M390.5 828.9V839.6M391.5 828.9V839.6M392.5 828.9V839.6M393.5 828.9V839.6M394.5 782.4V837.3M395.5 782.4V833.7M396.5 801.5V828.9M397.5 801.5V837.3M398.5 801.5V837.3M399.5 801.5V837.3M400.5 814.3V837.3M401.5 814.3V833.7M402.5 823.0V839.6M403.5 823.0V828.9M404.5 823.0V837.3M405.5 828.9V837.3M406.5 782.4V828.9M407.5 823.0V839.6M408.5 833.7V837.3M409.5 833.7V841.0M410.5 828.9V841.0M411.5 828.9V841.0M412.5 801.5V841.0M413.5 814.3V841.0M414.5 814.3V841.0M415.5 814.3V839.6M416.5 823.0V839.6M417.5 823.0V839.6M418.5 823.0V839.6M419.5 823.0V839.6M420.5 782.4V839.6M421.5 823.0V837.3M422.5 801.5V837.3M423.5 801.5V837.3M424.5 823.0V837.3M425.5 823.0V837.3M426.5 828.9V833.7M427.5 828.9V833.7M428.5 828.9V833.7M429.5 782.4V833.7M430.5 782.4V833.7M431.5 782.4V833.7M432.5 782.4V839.6M433.5 782.4V839.6M434.5 782.4V833.7M435.5 814.3V833.7M436.5 814.3V841.0M437.5 814.3V837.3M438.5 801.5V837.3M439.5 828.9V837.3M440.5 801.5V833.7M441.5 801.5V839.6M442.5 801.5V828.9M443.5 801.5V828.9M444.5 823.0V841.0M445.5 801.5V841.0M446.5 801.5V841.0M447.5 801.5V828.9M448.5 801.5V828.9M449.5 823.0V833.7M450.5 823.0V837.3M451.5 782.4V837.3M452.5 782.4V837.3M453.5 782.4V833.7M454.5 782.4V837.3M455.5 814.3V837.3M456.5 823.0V837.3M457.5 814.3V833.7M458.5 814.3V839.6M459.5 782.4V839.6M460.5 782.4V841.0M461.5 782.4V839.6M462.5 782.4V839.6M463.5 814.3V828.9M464.5 814.3V828.9M465.5 823.0V828.9M466.5 823.0V837.3M467.5 823.0V841.0M468.5 823.0V833.7M469.5 801.5V833.7M470.5 801.5V833.7M471.5 801.5V839.6M472.5 801.5V839.6M473.5 814.3V828.9M474.5 823.0V828.9M475.5 823.0V833.7M476.5 756.2V833.7M477.5 756.2V833.7M478.5 782.4V833.7M479.5 782.4V833.7M480.5 782.4V833.7M481.5 782.4V833.7M482.5 814.3V823.0M483.5 814.3V823.0M484.5 814.3V839.6M485.5 756.2V839.6M486.5 756.2V833.7M487.5 756.2V837.3M488.5 756.2V823.0M489.5 756.2V823.0M490.5 828.9V833.7M491.5 823.0V828.9M492.5 782.4V837.3M493.5 782.4V837.3M494.5 823.0V837.3M495.5 823.0V833.7M496.5 823.0V839.6M497.5 823.0V839.6M498.5 828.9V839.6M499.5 833.7V839.6M500.5 823.0V839.6M501.5 833.7V839.6M502.5 814.3V841.0M503.5 814.3V837.3M504.5 828.9V837.3M505.5 828.9V837.3M506.5 814.3V833.7M507.5 814.3V833.7M508.5 833.7V837.3M509.5 833.7V837.3M510.5 833.7V837.3M511.5 823.0V841.0M512.5 823.0V839.6M513.5 814.3V839.6M514.5 814.3V833.7M515.5 828.9V833.7M516.5 837.3V841.0M517.5 833.7V841.0M518.5 828.9V841.0M519.5 839.6V841.0M520.5 833.7V841.0M521.5 833.7V841.0M522.5 837.3V841.0M523.5 833.7V841.0M524.5 837.3V841.0M525.5 837.3V841.0M526.5 828.9V841.0M527.5 839.6V841.0M528.5 837.3V841.0M529.5 839.6V841.0M530.5 839.6V841.0M531.5 833.7V841.0M532.5 833.7V841.0M533.5 833.7V841.0M534.5 837.3V841.0M535.5 837.3V841.0M536.5 833.7V841.0M537.5 833.7V841.0M538.5 833.7V841.0M539.5 837.3V841.0M540.5 833.7V841.0M541.5 837.3V841.0M542.5 833.7V841.0M543.5 837.3V841.0M544.5 833.7V841.0M545.5 839.6V841.0M546.5 833.7V841.0M547.5 833.7V841.0M548.5 837.3V841.0M549.5 837.3V841.0M550.5 837.3V841.0M551.5 837.3V841.0M552.5 837.3V841.0M553.5 837.3V841.0M554.5 839.6V841.0M555.5 833.7V841.0M556.5 828.9V841.0M557.5 837.3V841.0M558.5 833.7V841.0M559.5 837.3V841.0M560.5 833.7V841.0M561.5 833.7V841.0M562.5 833.7V841.0M563.5 833.7V841.0M564.5 833.7V841.0M565.5 828.9V841.0M566.5 837.3V841.0M567.5 833.7V841.0M568.5 833.7V841.0M569.5 833.7V841.0M570.5 828.9V841.0M571.5 833.7V841.0M572.5 837.3V841.0M573.5 837.3V841.0M574.5 828.9V841.0M575.5 828.9V841.0M576.5 833.7V841.0M577.5 828.9V841.0M578.5 833.7V841.0M579.5 828.9V841.0M580.5 828.9V841.0M581.5 833.7V841.0M582.5 833.7V841.0M583.5 833.7V841.0M584.5 823.0V841.0M585.5 828.9V841.0M586.5 828.9V841.0M587.5 814.3V841.0M588.5 833.7V837.3M589.5 823.0V833.7M590.5 823.0V833.7M591.5 823.0V839.6M592.5 828.9V839.6M593.5 828.9V839.6M594.5 828.9V839.6M595.5 833.7V841.0M596.5 823.0V841.0M597.5 833.7V841.0M598.5 828.9V839.6M599.5 833.7V839.6M600.5 814.3V839.6M601.5 823.0V837.3M602.5 823.0V841.0M603.5 823.0V833.7M604.5 823.0V833.7M605.5 814.3V833.7M606.5 814.3V833.7M607.5 823.0V833.7M608.5 823.0V833.7M609.5 823.0V833.7M610.5 814.3V833.7M611.5 814.3V841.0M612.5 823.0V837.3M613.5 801.5V833.7M614.5 828.9V833.7M615.5 823.0V833.7M616.5 828.9V833.7M617.5 823.0V833.7M618.5 833.7V841.0M619.5 837.3V841.0M620.5 837.3V841.0M621.5 833.7V841.0M622.5 833.7V841.0M623.5 833.7V841.0M624.5 828.9V841.0M625.5 828.9V841.0M626.5 839.6V841.0M627.5 833.7V841.0M628.5 833.7V841.0M629.5 833.7V841.0M630.5 833.7V841.0M631.5 833.7V841.0M632.5 828.9V841.0M633.5 828.9V841.0M634.5 833.7V841.0M635.5 833.7V841.0M636.5 837.3V841.0M637.5 833.7V841.0M638.5 833.7V841.0M639.5 833.7V841.0M640.5 837.3V841.0M641.5 833.7V841.0M642.5 828.9V841.0M643.5 833.7V841.0M644.5 839.6V841.0M645.5 837.3V841.0M646.5 828.9V841.0M647.5 828.9V841.0M648.5 828.9V841.0M649.5 839.6V841.0M650.5 833.7V841.0M651.5 837.3V841.0M652.5 839.6V841.0M653.5 833.7V841.0M654.5 833.7V841.0M655.5 837.3V841.0M656.5 833.7V841.0M657.5 837.3V841.0M658.5 828.9V841.0M659.5 833.7V841.0M660.5 833.7V841.0M661.5 833.7V841.0M662.5 833.7V841.0M663.5 833.7V841.0M664.5 833.7V841.0M665.5 833.7V841.0M666.5 833.7V841.0M667.5 833.7V841.0M668.5 839.6V841.0M669.5 839.6V841.0M670.5 837.3V841.0M671.5 837.3V841.0M672.5 837.3V841.0M673.5 837.3V841.0M674.5 833.7V841.0M675.5 833.7V841.0M676.5 839.6V841.0M677.5 839.6V841.0M678.5 837.3V841.0M679.5 833.7V841.0M680.5 833.7V841.0M681.5 833.7V841.0M682.5 837.3V841.0M683.5 837.3V841.0M684.5 837.3V841.0M685.5 828.9V841.0M686.5 833.7V841.0M687.5 837.3V841.0M688.5 837.3V841.0M689.5 833.7V841.0M690.5 833.7V841.0M691.5 833.7V841.0M692.5 833.7V841.0M693.5 833.7V841.0M694.5 837.3V841.0M695.5 833.7V841.0M696.5 833.7V841.0M697.5 837.3V841.0M698.5 837.3V841.0M699.5 837.3V841.0M700.5 839.6V841.0M701.5 833.7V841.0M702.5 833.7V841.0M703.5 833.7V841.0M704.5 833.7V841.0M705.5 837.3V841.0M706.5 833.7V841.0M707.5 828.9V841.0M708.5 837.3V841.0M709.5 833.7V841.0M710.5 833.7V841.0M711.5 833.7V841.0M712.5 833.7V841.0M713.5 839.6V841.0M714.5 833.7V841.0M715.5 839.6V841.0M716.5 837.3V841.0M717.5 839.6V841.0M718.5 833.7V841.0M719.5 833.7V841.0M720.5 833.7V841.0M721.5 833.7V841.0M722.5 837.3V841.0M723.5 837.3V841.0M724.5 837.3V841.0M725.5 837.3V841.0M726.5 837.3V841.0M727.5 828.9V841.0M728.5 839.6V841.0M729.5 833.7V841.0M730.5 833.7V841.0M731.5 837.3V841.0M732.5 828.9V841.0M733.5 833.7V841.0M734.5 828.9V841.0M735.5 839.6V841.0M736.5 828.9V841.0M737.5 833.7V841.0M738.5 833.7V841.0M739.5 833.7V841.0M740.5 837.3V841.0M741.5 837.3V841.0M742.5 837.3V841.0M743.5 837.3V841.0M744.5 837.3V841.0M745.5 837.3V841.0M746.5 837.3V841.0M747.5 828.9V841.0M748.5 839.6V841.0M749.5 839.6V841.0M750.5 828.9V841.0M751.5 837.3V841.0M752.5 837.3V841.0M753.5 837.3V841.0M754.5 839.6V841.0M755.5 833.7V841.0M756.5 833.7V841.0M757.5 833.7V841.0M758.5 828.9V841.0M759.5 833.7V841.0M760.5 837.3V841.0M761.5 837.3V841.0M762.5 833.7V841.0M763.5 833.7V841.0M764.5 839.6V841.0M765.5 839.6V841.0M766.5 837.3V841.0M767.5 833.7V841.0M768.5 833.7V841.0M769.5 837.3V841.0M770.5 837.3V841.0M771.5 837.3V841.0M772.5 833.7V841.0M773.5 833.7V841.0M774.5 837.3V841.0M775.5 833.7V841.0M776.5 828.9V841.0M777.5 828.9V841.0M778.5 833.7V841.0M779.5 837.3V841.0M780.5 837.3V841.0M781.5 833.7V841.0M782.5 833.7V841.0M783.5 833.7V841.0M784.5 833.7V841.0M785.5 839.6V841.0M786.5 839.6V841.0M787.5 839.6V841.0M788.5 839.6V841.0M789.5 833.7V841.0M790.5 833.7V841.0M791.5 837.3V841.0M792.5 833.7V841.0M793.5 837.3V841.0M794.5 837.3V841.0M795.5 837.3V841.0M796.5 837.3V841.0M797.5 837.3V841.0M798.5 833.7V841.0M799.5 833.7V841.0M800.5 833.7V841.0M801.5 814.3V833.7M802.5 814.3V839.6M803.5 814.3V833.7M804.5 828.9V833.7M805.5 814.3V839.6M806.5 814.3V839.6M807.5 756.2V823.0M808.5 756.2V823.0M809.5 756.2V828.9M810.5 756.2V828.9M811.5 756.2V828.9M812.5 801.5V828.9M813.5 828.9V837.3M814.5 828.9V839.6M815.5 782.4V837.3M816.5 801.5V841.0M817.5 814.3V841.0M818.5 814.3V841.0M819.5 814.3V833.7M820.5 801.5V823.0M821.5 782.4V823.0M822.5 782.4V837.3M823.5 782.4V837.3M824.5 782.4V833.7M825.5 782.4V833.7M826.5 814.3V823.0M827.5 814.3V823.0M828.5 801.5V828.9M829.5 828.9V841.0M830.5 837.3V841.0M831.5 833.7V841.0M832.5 833.7V841.0M833.5 828.9V841.0M834.5 833.7V841.0M835.5 839.6V841.0M836.5 833.7V841.0M837.5 833.7V841.0M838.5 828.9V841.0M839.5 837.3V841.0M840.5 837.3V841.0M841.5 833.7V841.0M842.5 833.7V841.0M843.5 837.3V841.0M844.5 828.9V841.0M845.5 839.6V841.0M846.5 828.9V841.0M847.5 833.7V841.0M848.5 833.7V841.0M849.5 833.7V841.0M850.5 837.3V841.0M851.5 833.7V841.0M852.5 833.7V841.0M853.5 833.7V841.0M854.5 833.7V841.0M855.5 837.3V841.0M856.5 828.9V841.0M857.5 828.9V841.0M858.5 837.3V841.0M859.5 837.3V841.0M860.5 837.3V841.0M861.5 837.3V841.0M862.5 837.3V841.0M863.5 837.3V841.0M864.5 828.9V841.0M865.5 828.9V841.0M866.5 839.6V841.0M867.5 833.7V841.0M868.5 828.9V841.0M869.5 828.9V841.0M870.5 828.9V841.0M871.5 828.9V841.0M872.5 837.3V841.0M873.5 837.3V841.0M874.5 833.7V841.0M875.5 837.3V841.0M876.5 837.3V841.0M877.5 833.7V841.0M878.5 833.7V841.0M879.5 833.7V841.0M880.5 833.7V841.0M881.5 837.3V841.0M882.5 837.3V841.0M883.5 839.6V841.0M884.5 833.7V841.0M885.5 837.3V841.0M886.5 837.3V841.0M887.5 823.0V839.6M888.5 828.9V841.0M889.5 837.3V839.6M890.5 828.9V837.3M891.5 828.9V833.7M892.5 828.9V833.7M893.5 828.9V833.7M894.5 828.9V833.7M895.5 833.7V837.3M896.5 782.4V837.3M897.5 756.2V833.7M898.5 756.2V833.7M899.5 756.2V828.9M900.5 756.2V828.9M901.5 801.5V828.9M902.5 801.5V828.9M903.5 801.5V828.9M904.5 756.2V828.9M905.5 756.2V828.9M906.5 801.5V828.9M907.5 801.5V839.6M908.5 801.5V839.6M909.5 801.5V839.6M910.5 833.7V841.0M911.5 837.3V841.0M912.5 837.3V841.0M913.5 837.3V841.0M914.5 837.3V841.0M915.5 833.7V841.0M916.5 833.7V841.0M917.5 833.7V841.0M918.5 833.7V841.0M919.5 837.3V841.0M920.5 837.3V841.0M921.5 837.3V841.0M922.5 839.6V841.0M923.5 837.3V841.0M924.5 828.9V841.0M925.5 828.9V841.0M926.5 839.6V841.0M927.5 837.3V841.0M928.5 837.3V841.0M929.5 828.9V841.0M930.5 801.5V841.0M931.5 801.5V841.0M932.5 801.5V837.3M933.5 801.5V839.6M934.5 801.5V814.3M935.5 782.4V823.0M936.5 782.4V823.0M937.5 828.9V833.7M938.5 837.3V841.0M939.5 839.6V841.0M940.5 839.6V841.0M941.5 833.7V841.0M942.5 833.7V841.0M943.5 837.3V841.0M944.5 837.3V841.0M945.5 837.3V841.0M946.5 837.3V841.0M947.5 833.7V841.0M948.5 837.3V841.0M949.5 839.6V841.0M950.5 837.3V841.0M951.5 837.3V841.0M952.5 833.7V841.0M953.5 837.3V841.0M954.5 837.3V841.0M955.5 837.3V841.0M956.5 837.3V841.0M957.5 833.7V841.0M958.5 801.5V833.7M959.5 801.5V833.7M960.5 814.3V833.7M961.5 814.3V833.7M962.5 814.3V837.3M963.5 814.3V841.0M964.5 814.3V839.6M965.5 833.7V837.3M966.5 833.7V837.3M967.5 823.0V833.7M968.5 823.0V833.7M969.5 828.9V833.7M970.5 828.9V833.7M971.5 828.9V837.3M972.5 814.3V841.0M973.5 823.0V833.7M974.5 814.3V833.7M975.5 814.3V833.7M976.5 814.3V839.6M977.5 756.2V837.3M978.5 756.2V837.3M979.5 782.4V828.9M980.5 782.4V828.9M981.5 782.4V828.9M982.5 823.0V828.9M983.5 801.5V828.9M984.5 801.5V833.7M985.5 801.5V828.9M986.5 814.3V828.9M987.5 814.3V828.9M988.5 828.9V833.7M989.5 828.9V833.7M990.5 828.9V833.7M991.5 814.3V823.0M992.5 814.3V833.7M993.5 814.3V833.7M994.5 782.4V833.7M995.5 814.3V837.3M996.5 814.3V833.7M997.5 814.3V833.7M998.5 814.3V833.7M999.5 814.3V841.0M1000.5 833.7V841.0M1001.5 833.7V841.0M1002.5 828.9V841.0M1003.5 828.9V841.0M1004.5 833.7V841.0M1005.5 828.9V841.0M1006.5 837.3V841.0M1007.5 828.9V841.0M1008.5 833.7V841.0M1009.5 833.7V841.0M1010.5 833.7V841.0M1011.5 837.3V841.0M1012.5 837.3V841.0M1013.5 837.3V841.0M1014.5 837.3V841.0M1015.5 833.7V841.0M1016.5 837.3V841.0M1017.5 833.7V841.0M1018.5 837.3V841.0M1019.5 837.3V841.0M1020.5 837.3V841.0M1021.5 833.7V841.0M1022.5 837.3V841.0M1023.5 828.9V841.0M1024.5 828.9V841.0M1025.5 828.9V841.0M1026.5 828.9V841.0M1027.5 828.9V841.0M1028.5 828.9V841.0M1029.5 839.6V841.0M1030.5 833.7V841.0M1031.5 833.7V841.0M1032.5 839.6V841.0M1033.5 828.9V841.0M1034.5 839.6V841.0M1035.5 837.3V841.0M1036.5 837.3V841.0M1037.5 839.6V841.0M1038.5 837.3V841.0M1039.5 833.7V841.0M1040.5 833.7V841.0M1041.5 828.9V841.0M1042.5 828.9V841.0M1043.5 828.9V841.0M1044.5 837.3V841.0M1045.5 828.9V841.0M1046.5 828.9V841.0M1047.5 833.7V841.0M1048.5 833.7V841.0M1049.5 833.7V841.0M1050.5 833.7V837.3M1051.5 823.0V833.7M1052.5 823.0V833.7M1053.5 828.9V833.7M1054.5 801.5V833.7M1055.5 828.9V833.7M1056.5 828.9V833.7M1057.5 828.9V841.0M1058.5 814.3V839.6M1059.5 814.3V828.9M1060.5 814.3V837.3M1061.5 828.9V837.3M1062.5 828.9V837.3M1063.5 833.7V841.0M1064.5 837.3V841.0M1065.5 839.6V841.0M1066.5 837.3V841.0M1067.5 837.3V841.0M1068.5 833.7V841.0M1069.5 833.7V841.0M1070.5 839.6V841.0M1071.5 837.3V841.0M1072.5 828.9V841.0M1073.5 837.3V841.0M1074.5 837.3V841.0M1075.5 828.9V841.0M1076.5 828.9V841.0M1077.5 828.9V841.0M1078.5 833.7V841.0M1079.5 837.3V841.0M1080.5 837.3V841.0M1081.5 833.7V841.0M1082.5 833.7V841.0M1083.5 833.7V841.0M1084.5 833.7V841.0M1085.5 833.7V841.0M1086.5 828.9V841.0M1087.5 833.7V841.0M1088.5 833.7V841.0M1089.5 833.7V841.0M1090.5 833.7V841.0M1091.5 837.3V841.0M1092.5 839.6V841.0M1093.5 828.9V841.0M1094.5 833.7V841.0M1095.5 833.7V841.0M1096.5 837.3V841.0M1097.5 837.3V841.0M1098.5 833.7V841.0M1099.5 828.9V841.0M1100.5 837.3V841.0M1101.5 828.9V841.0M1102.5 837.3V841.0M1103.5 837.3V841.0M1104.5 837.3V841.0M1105.5 839.6V841.0M1106.5 828.9V841.0M1107.5 833.7V841.0M1108.5 839.6V841.0M1109.5 839.6V841.0M1110.5 839.6V841.0M1111.5 839.6V841.0M1112.5 833.7V841.0M1113.5 837.3V841.0M1114.5 833.7V841.0M1115.5 833.7V841.0M1116.5 833.7V841.0M1117.5 833.7V841.0M1118.5 839.6V841.0M1119.5 833.7V841.0M1120.5 837.3V841.0M1121.5 837.3V841.0M1122.5 837.3V841.0M1123.5 828.9V841.0M1124.5 833.7V841.0M1125.5 833.7V841.0M1126.5 828.9V841.0M1127.5 828.9V841.0M1128.5 837.3V841.0M1129.5 839.6V841.0M1130.5 833.7V841.0M1131.5 828.9V841.0M1132.5 828.9V841.0M1133.5 828.9V841.0M1134.5 828.9V833.7M1135.5 814.3V833.7M1136.5 782.4V833.7M1137.5 782.4V833.7M1138.5 782.4V833.7M1139.5 801.5V833.7M1140.5 801.5V841.0M1141.5 801.5V837.3M1142.5 801.5V837.3M1143.5 801.5V814.3M1144.5 801.5V814.3M1145.5 801.5V814.3M1146.5 814.3V823.0M1147.5 828.9V833.7M1148.5 828.9V833.7M1149.5 828.9V841.0M1150.5 833.7V841.0M1151.5 837.3V841.0M1152.5 833.7V841.0M1153.5 837.3V841.0M1154.5 828.9V841.0M1155.5 833.7V841.0M1156.5 837.3V841.0M1157.5 839.6V841.0M1158.5 833.7V841.0M1159.5 839.6V841.0M1160.5 833.7V841.0M1161.5 828.9V841.0M1162.5 828.9V841.0M1163.5 828.9V841.0M1164.5 833.7V841.0M1165.5 833.7V841.0M1166.5 828.9V841.0M1167.5 837.3V841.0M1168.5 828.9V841.0M1169.5 833.7V841.0M1170.5 833.7V841.0M1171.5 833.7V841.0M1172.5 837.3V841.0M1173.5 837.3V841.0M1174.5 837.3V841.0M1175.5 828.9V841.0M1176.5 828.9V841.0M1177.5 828.9V841.0M1178.5 828.9V841.0M1179.5 839.6V841.0M1180.5 839.6V841.0M1181.5 828.9V841.0M1182.5 837.3V841.0M1183.5 828.9V841.0M1184.5 837.3V841.0M1185.5 837.3V841.0M1186.5 837.3V841.0M1187.5 828.9V841.0M1188.5 837.3V841.0M1189.5 837.3V841.0M1190.5 839.6V841.0M1191.5 839.6V841.0M1192.5 837.3V841.0M1193.5 833.7V841.0M1194.5 839.6V841.0M1195.5 833.7V841.0" stroke="#B2AEAD" stroke-width="1.3" fill="none"/><path d="M141.0 814.3V839.6M150.5 756.2V839.6M152.0 801.5V839.6M155.0 782.4V839.6M158.0 782.4V839.6M170.0 814.3V839.6M174.0 814.3V839.6M187.0 814.3V839.6M192.0 823.0V839.6M196.0 823.0V839.6M209.0 814.3V839.6M220.5 814.3V839.6M235.0 823.0V839.6M245.0 814.3V839.6M247.0 814.3V839.6M264.0 782.4V839.6M270.0 756.2V839.6M275.0 782.4V839.6M279.0 756.2V839.6M283.7 719.1V839.6M290.0 756.2V839.6M292.0 756.2V839.6M298.0 756.2V839.6M302.7 665.5V839.6M311.0 823.0V839.6M334.0 756.2V839.6M338.0 665.5V839.6M338.9 719.1V839.6M340.0 756.2V839.6M341.7 665.5V839.6M351.0 756.2V839.6M367.0 719.1V839.6M370.0 719.1V839.6M371.6 665.5V839.6M375.1 591.5V839.6M381.1 719.1V839.6M386.0 756.2V839.6M388.0 782.4V839.6M403.0 756.2V839.6M414.8 719.1V839.6M415.1 719.1V839.6M420.5 719.1V839.6M421.2 719.1V839.6M422.0 756.2V839.6M428.2 719.1V839.6M428.7 719.1V839.6M434.0 665.5V839.6M440.3 665.5V839.6M442.8 719.1V839.6M443.1 719.1V839.6M445.7 756.2V839.6M446.8 591.5V839.6M448.2 591.5V839.6M448.9 591.5V839.6M456.0 665.5V839.6M459.5 756.2V839.6M460.6 756.2V839.6M465.5 719.1V839.6M465.9 719.1V839.6M470.3 665.5V839.6M471.2 665.5V839.6M479.0 665.5V839.6M480.0 665.5V839.6M483.0 719.1V839.6M486.0 756.2V839.6M489.5 591.5V839.6M492.0 665.5V839.6M495.0 665.5V839.6M500.0 801.5V839.6M504.0 801.5V839.6M510.6 665.5V839.6M512.5 801.5V839.6M518.0 823.0V839.6M541.5 823.0V839.6M547.0 823.0V839.6M587.0 814.3V839.6M589.0 801.5V839.6M590.0 814.3V839.6M602.0 782.4V839.6M604.0 801.5V839.6M610.7 782.4V839.6M613.0 782.4V839.6M614.8 782.4V839.6M624.0 828.9V839.6M628.0 828.9V839.6M634.5 823.0V839.6M679.0 823.0V839.6M681.0 823.0V839.6M684.0 823.0V839.6M693.0 823.0V839.6M696.0 823.0V839.6M700.0 823.0V839.6M704.0 823.0V839.6M731.0 801.5V839.6M745.0 823.0V839.6M748.0 823.0V839.6M752.0 828.9V839.6M777.0 823.0V839.6M779.0 823.0V839.6M781.0 823.0V839.6M797.0 823.0V839.6M805.4 756.2V839.6M806.0 756.2V839.6M808.0 756.2V839.6M810.7 756.2V839.6M816.0 801.5V839.6M820.3 665.5V839.6M821.8 591.5V839.6M822.5 591.5V839.6M823.4 591.5V839.6M844.6 814.3V839.6M851.0 814.3V839.6M855.5 823.0V839.6M866.0 823.0V839.6M870.0 823.0V839.6M876.0 823.0V839.6M897.7 756.2V839.6M899.0 756.2V839.6M902.3 719.1V839.6M906.5 719.1V839.6M907.0 719.1V839.6M908.0 756.2V839.6M919.5 801.5V839.6M919.8 801.5V839.6M923.9 814.3V839.6M924.0 814.3V839.6M932.0 719.1V839.6M932.4 719.1V839.6M933.0 756.2V839.6M946.5 801.5V839.6M947.2 801.5V839.6M950.0 823.0V839.6M952.0 823.0V839.6M962.3 665.5V839.6M975.0 665.5V839.6M978.7 756.2V839.6M985.0 665.5V839.6M1001.0 823.0V839.6M1015.0 823.0V839.6M1058.0 756.2V839.6M1058.4 756.2V839.6M1059.0 801.5V839.6M1065.0 814.3V839.6M1126.0 823.0V839.6M1142.0 756.2V839.6M1143.5 756.2V839.6M1154.0 814.3V839.6M1154.5 814.3V839.6" stroke="#B2AEAD" stroke-width="1.8" fill="none"/>
<path d="M936.7 175V440" stroke="#A8A4A3" stroke-width="1.5" fill="none"/>
<path d="M136.4,450.8 L144.8,450.8 L144.8,184.7 L197.3,184.7 L197.3,450.8 L257.6,450.8 L257.6,184.7 L454.5,184.7 L454.5,450.8 L543.0,450.8 L543.0,184.7 L604.4,184.7 L604.4,450.8 L647.0,450.8 L647.0,184.7 L669.0,184.7 L669.0,450.8 L747.2,450.8 L747.2,184.7 L803.6,184.7 L803.6,450.8 L837.2,450.8 L837.2,184.7 L955.4,184.7 L955.4,450.8 L1009.6,450.8 L1009.6,184.7 L1040.8,184.7 L1040.8,450.8 L1116.7,450.8 L1116.7,184.7 L1171.8,184.7 L1171.8,450.8 L1191.0,450.8" fill="none" stroke="#DA1E0E" stroke-width="3.4" stroke-linejoin="round" stroke-linecap="round"/>
<path d="M140.4,842.1 L147.3,842.1 L147.3,575.95 L164.7,575.95 L164.7,842.1 L257.6,842.1 L257.6,575.95 L306.3,575.95 L306.3,842.1 L327.9,842.1 L327.9,575.95 L515.3,575.95 L515.3,842.1 L573.6,842.1 L573.6,575.95 L618.0,575.95 L618.0,842.1 L800.4,842.1 L800.4,575.95 L828.8,575.95 L828.8,842.1 L886.7,842.1 L886.7,575.95 L910.3,575.95 L910.3,842.1 L929.6,842.1 L929.6,575.95 L936.5,575.95 L936.5,842.1 L958.5,842.1 L958.5,575.95 L999.2,575.95 L999.2,842.1 L1049.3,842.1 L1049.3,575.95 L1060.9,575.95 L1060.9,842.1 L1133.7,842.1 L1133.7,575.95 L1151.4,575.95 L1151.4,842.1 L1195.6,842.1" fill="none" stroke="#3A42A4" stroke-width="3.4" stroke-linejoin="round" stroke-linecap="round"/>
</svg>
</body></html>
